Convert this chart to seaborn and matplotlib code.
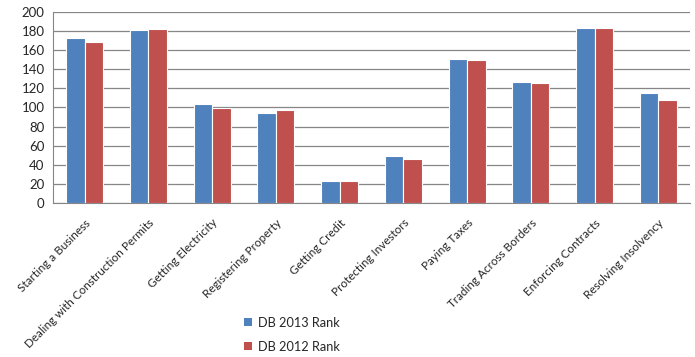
import numpy as np
import pandas as pd
import seaborn as sns
import matplotlib.pyplot as plt
from matplotlib.patches import Patch

# data
categories = ["Starting a Business", "Dealing with Construction Permits", "Getting Electricity",
              "Registering Property", "Getting Credit", "Protecting Investors", "Paying Taxes",
              "Trading Across Borders", "Enforcing Contracts", "Resolving Insolvency"]
rank_2013 = [172, 181, 104, 94, 23, 49, 151, 127, 183, 115]
rank_2012 = [168, 182, 99, 97, 23, 46, 149, 125, 183, 108]
series = ["DB 2013 Rank", "DB 2012 Rank"]
colors = ["#4F81BD", "#C0504D"]

df = pd.DataFrame({"Category": categories * 2,
                   "Rank": rank_2013 + rank_2012,
                   "Series": [series[0]] * len(categories) + [series[1]] * len(categories)})

sns.set_style("white")
plt.rcParams['font.family'] = ['Lato', 'DejaVu Sans']

fig = plt.figure(figsize=(6.95, 3.57), dpi=100)
ax = fig.add_axes([0.076, 0.4305, 0.917, 0.537])

sns.barplot(data=df, x="Category", y="Rank", hue="Series", palette=colors, saturation=1,
            width=0.58, edgecolor="white", linewidth=0.8, ax=ax, legend=False, zorder=3)

ax.set_ylim(0, 200)
ax.set_yticks(np.arange(0, 201, 20))
ax.set_xlim(-0.5, len(categories) - 0.5)
ax.yaxis.grid(True, color="#868686", linewidth=0.9, zorder=0)
ax.set_axisbelow(True)
ax.set_xlabel("")
ax.set_ylabel("")
for s in ["top", "right"]:
    ax.spines[s].set_visible(False)
ax.spines["left"].set_color("#868686")
ax.spines["bottom"].set_color("#868686")
ax.tick_params(axis="y", labelsize=9.5, length=0, pad=6)
ax.tick_params(axis="x", labelsize=8.4, length=0, pad=10)
plt.setp(ax.get_xticklabels(), rotation=45, ha="right", rotation_mode="anchor")

handles = [Patch(facecolor=c, edgecolor="none") for c in colors]
fig.legend(handles, series, loc="center left", bbox_to_anchor=(0.335, 0.062),
           frameon=False, fontsize=9.2, handlelength=0.6, handleheight=0.6,
           handletextpad=0.5, labelspacing=0.95)

fig.savefig("out.png", dpi=100)
